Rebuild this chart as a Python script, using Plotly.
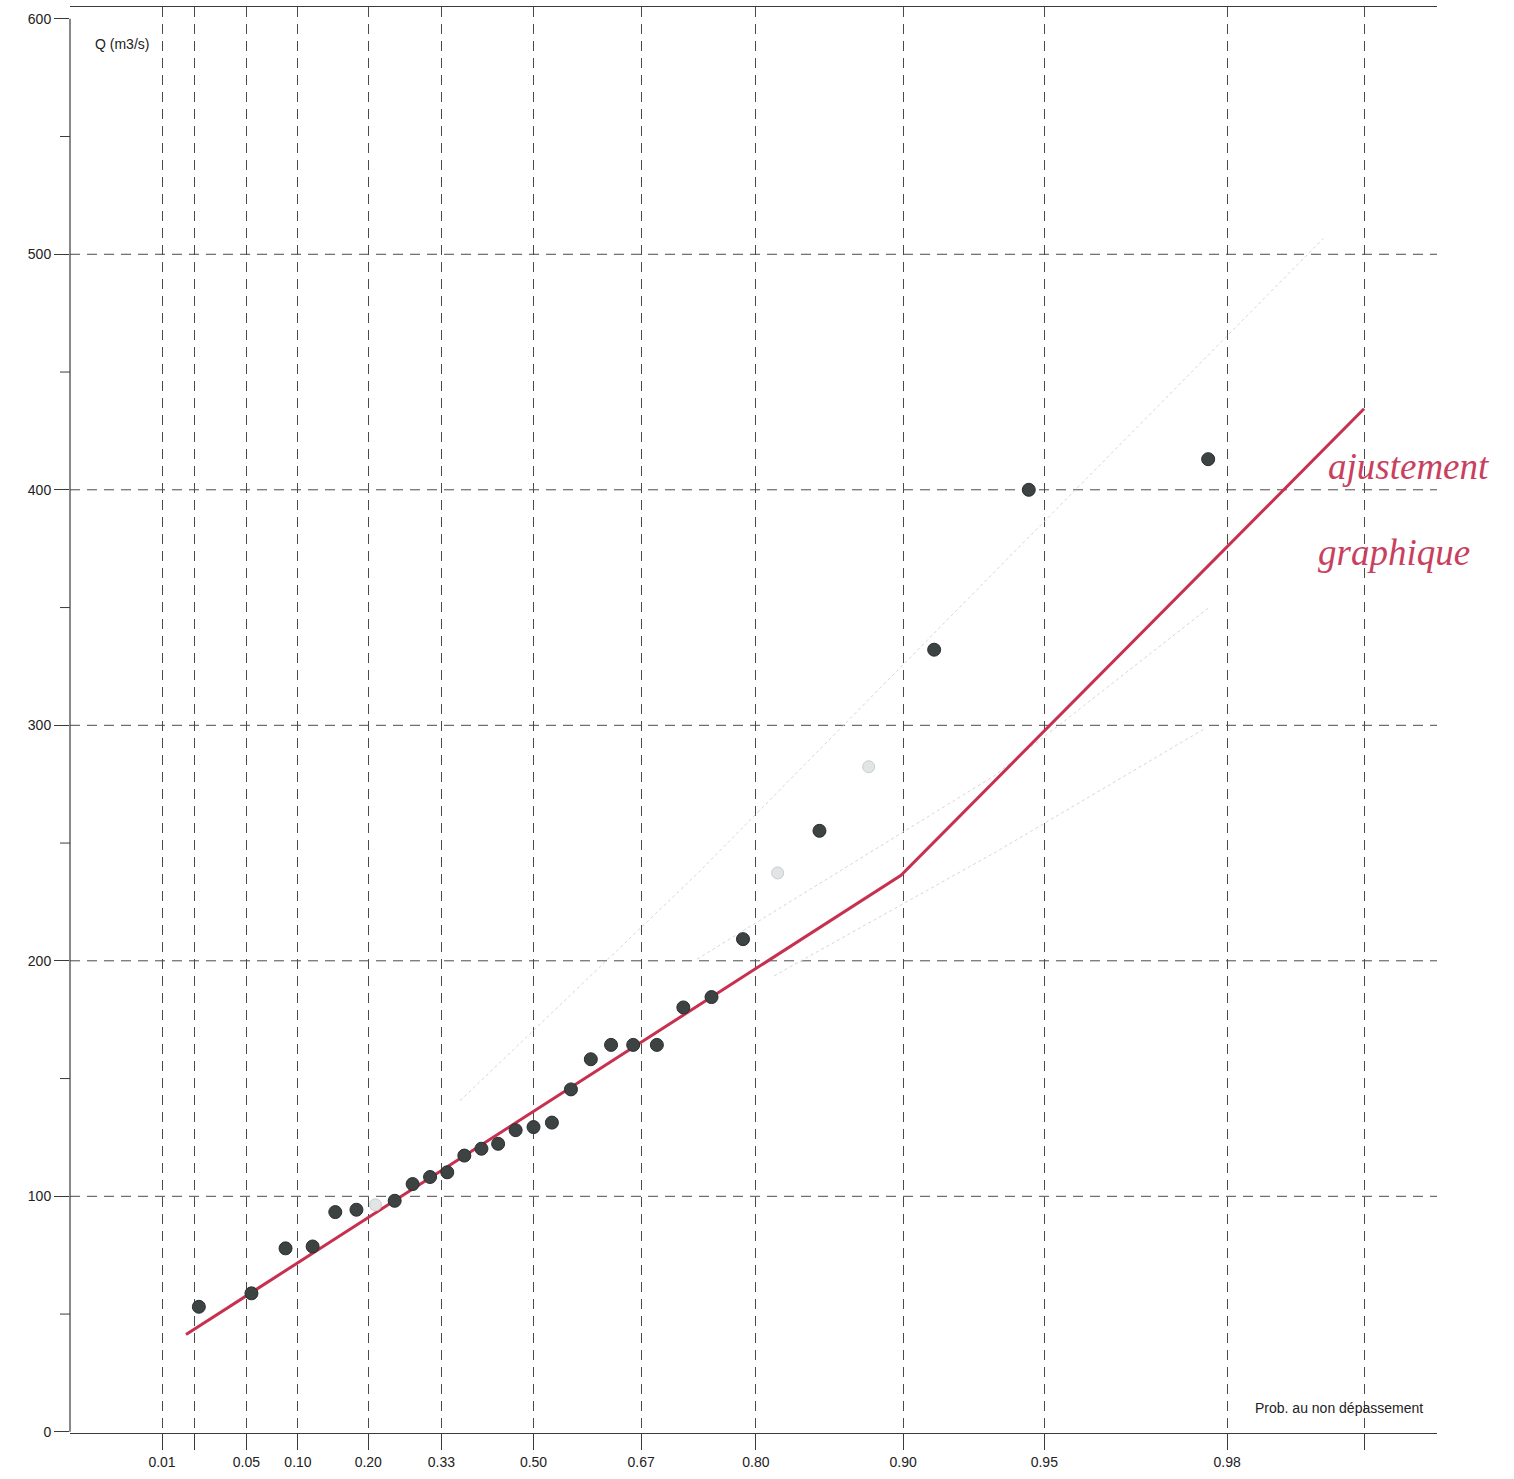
import numpy as np
import plotly.graph_objects as go

# ---------------- data ----------------
prob_ticks = [0.01, 0.02, 0.05, 0.10, 0.20, 0.33, 0.50, 0.67, 0.80, 0.90, 0.95, 0.98, 0.99]
prob_labels = ["0.01", "", "0.05", "0.10", "0.20", "0.33", "0.50", "0.67", "0.80", "0.90", "0.95", "0.98", ""]
q_ticks = [0, 100, 200, 300, 400, 500, 600]
q_grid = [100, 200, 300, 400, 500]
q_minor = [50, 150, 250, 350, 450, 550]

obs_prob = [0.022, 0.054, 0.086, 0.118, 0.149, 0.181, 0.212, 0.245, 0.277, 0.309,
            0.341, 0.373, 0.405, 0.436, 0.468, 0.500, 0.532, 0.564, 0.596, 0.627,
            0.659, 0.691, 0.724, 0.756, 0.788, 0.819, 0.851, 0.882, 0.914, 0.946, 0.978]
obs_q = [53.1, 58.8, 77.9, 78.7, 93.3, 94.3, 96.4, 98.1, 105.2, 108.2,
         110.2, 117.3, 120.2, 122.3, 128.1, 129.4, 131.3, 145.4, 158.2, 164.3,
         164.3, 164.3, 180.2, 184.6, 209.2, 237.3, 255.2, 282.4, 332.1, 400.0, 413.0]
obs_faded = [6, 25, 27]  # indices of the pale (washed-out) points

fit_prob = [0.017, 0.899, 0.990]   # hand-drawn "ajustement graphique"
fit_q = [41.3, 236.3, 434.4]

upper_prob = [0.365, 0.740, 0.936, 0.9877]
upper_q = [140.6, 236.9, 365.1, 506.7]
center_prob = [0.740, 0.936, 0.978]
center_q = [200.7, 278.6, 349.7]
lower_prob = [0.816, 0.9367, 0.9777]
lower_q = [193.6, 246.4, 298.8]


def gumbel(p):
    p = np.asarray(p, dtype=float)
    return -np.log(-np.log(p))


W, H = 1514, 1479
L, R, T, B = 70, 1437, 7, 1433

fig = go.Figure()

# faint dotted curves
for px, qy in [(upper_prob, upper_q), (center_prob, center_q), (lower_prob, lower_q)]:
    fig.add_trace(go.Scatter(x=gumbel(px), y=qy, mode="lines",
                             line=dict(color="#d6d6d6", width=1, dash="dot"),
                             hoverinfo="skip", showlegend=False))

# graphical fit (red)
fig.add_trace(go.Scatter(x=gumbel(fit_prob), y=fit_q, mode="lines",
                         line=dict(color="#c8304f", width=3),
                         showlegend=False))

dark_idx = [i for i in range(len(obs_q)) if i not in obs_faded]
fig.add_trace(go.Scatter(x=gumbel([obs_prob[i] for i in dark_idx]),
                         y=[obs_q[i] for i in dark_idx], mode="markers",
                         marker=dict(size=13, color="#3d4242",
                                     line=dict(color="#2a2e2e", width=1)),
                         showlegend=False))
fig.add_trace(go.Scatter(x=gumbel([obs_prob[i] for i in obs_faded]),
                         y=[obs_q[i] for i in obs_faded], mode="markers",
                         marker=dict(size=12, color="#e2e5e5",
                                     line=dict(color="#c9cdcd", width=1)),
                         showlegend=False))

shapes = []
# horizontal dashed grid lines
for q in q_grid:
    shapes.append(dict(type="line", xref="paper", yref="y", x0=0, x1=1, y0=q, y1=q,
                       line=dict(color="#4a4a4a", width=1, dash="10px,7px"), layer="below"))
# y axis line (0 to 600)
shapes.append(dict(type="line", xref="paper", yref="y", x0=0, x1=0, y0=0, y1=600,
                   line=dict(color="#3a3a3a", width=1.2)))
# minor y ticks
for q in q_minor:
    shapes.append(dict(type="line", xref="paper", yref="y", x0=-10 / (R - L), x1=0,
                       y0=q, y1=q, line=dict(color="#3a3a3a", width=1)))

fig.update_layout(
    width=W, height=H,
    margin=dict(l=L, r=W - R, t=T, b=H - B),
    paper_bgcolor="white", plot_bgcolor="white",
    font=dict(family="Liberation Sans, Arial, sans-serif", size=14, color="#222"),
    shapes=shapes,
    xaxis=dict(range=[float(gumbel(0.01)) - 0.469, 4.972],
               tickvals=gumbel(prob_ticks), ticktext=prob_labels,
               showgrid=True, gridcolor="#4a4a4a", gridwidth=1, griddash="10px,7px",
               zeroline=False, showline=True, linecolor="#3a3a3a", linewidth=1.2,
               mirror=True, ticks="outside", ticklen=16, tickcolor="#3a3a3a",
               tickfont=dict(size=14, color="#222")),
    yaxis=dict(range=[-0.5, 605], tickvals=q_ticks,
               showgrid=False, zeroline=False, showline=False,
               ticks="outside", ticklen=15, tickcolor="#3a3a3a",
               tickfont=dict(size=14, color="#222")),
    annotations=[
        dict(text="Q (m3/s)", xref="paper", yref="paper", x=(93 - L) / (R - L),
             y=(B - 44) / (B - T), xanchor="left", yanchor="middle", showarrow=False,
             font=dict(size=14, color="#222")),
        dict(text="Prob. au non dépassement", xref="paper", yref="paper",
             x=(1425 - L) / (R - L), y=(B - 1408) / (B - T), xanchor="right",
             yanchor="middle", showarrow=False, font=dict(size=14, color="#222")),
        dict(text="<i>ajustement</i>", xref="paper", yref="paper",
             x=(1326 - L) / (R - L), y=(B - 466) / (B - T), xanchor="left",
             yanchor="middle", showarrow=False,
             font=dict(family="Liberation Serif, serif", size=37, color="#c9405f")),
        dict(text="<i>graphique</i>", xref="paper", yref="paper",
             x=(1316 - L) / (R - L), y=(B - 552) / (B - T), xanchor="left",
             yanchor="middle", showarrow=False,
             font=dict(family="Liberation Serif, serif", size=37, color="#c9405f")),
    ],
)

fig.write_html("out.html",
               config={"displayModeBar": False},
               post_script="document.body.style.margin='0';document.body.style.overflow='hidden';")
